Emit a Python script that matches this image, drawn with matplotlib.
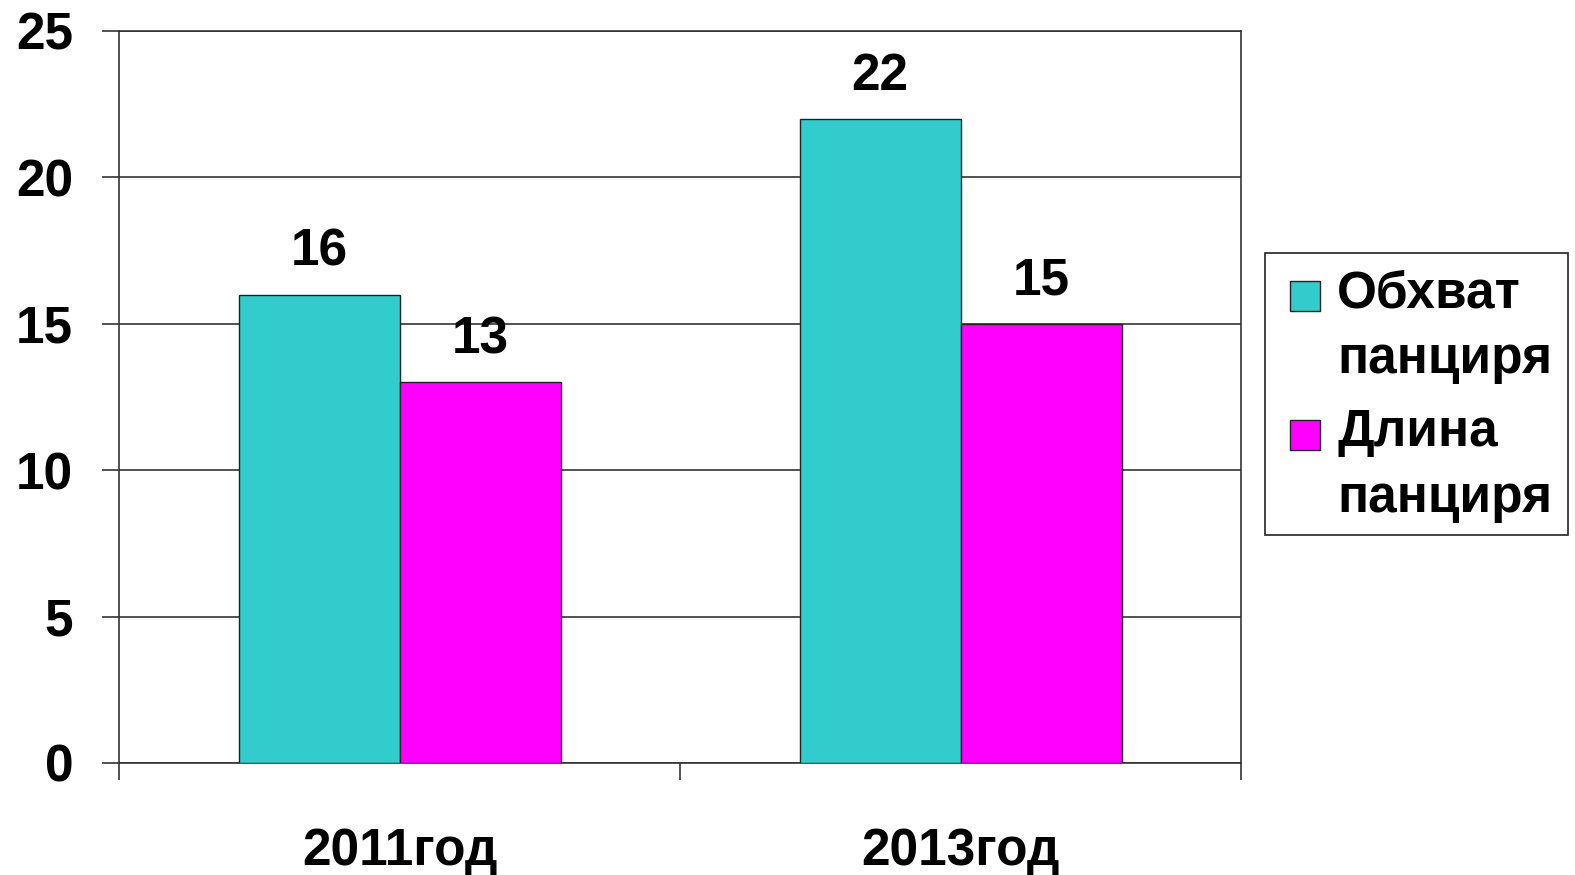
import matplotlib
matplotlib.use("Agg")
import matplotlib.pyplot as plt
from matplotlib.patches import Rectangle
import numpy as np

categories = ["2011год", "2013год"]
series_names = ["Обхват\nпанциря", "Длина\nпанциря"]
obhvat = [16, 22]
dlina = [13, 15]
yticks = [0, 5, 10, 15, 20, 25]

colors = ["#33CCCC", "#FF00FF"]

plt.rcParams['font.family'] = ['Liberation Sans', 'DejaVu Sans']
plt.rcParams['font.weight'] = 'bold'

W, H = 1575, 875
fig = plt.figure(figsize=(W / 100, H / 100), dpi=100)
ax = fig.add_axes([119 / W, 1 - 763 / H, (1241 - 119) / W, (763 - 31) / H])

x = np.arange(len(categories))
bw = 161 / 561
b1 = ax.bar(x - bw / 2, obhvat, bw, color=colors[0], edgecolor="#222222", linewidth=1.0,
            label=series_names[0], zorder=3)
b2 = ax.bar(x + bw / 2, dlina, bw, color=colors[1], edgecolor="#222222", linewidth=1.0,
            label=series_names[1], zorder=3)

fs = 37
ax.bar_label(b1, padding=13, fontsize=fs, fontweight='bold')
ax.bar_label(b2, padding=13, fontsize=fs, fontweight='bold')

ax.set_xlim(-0.5, 1.5)
ax.set_ylim(0, 25)
ax.set_yticks(yticks)
ax.yaxis.grid(True, color="#333333", linewidth=1.2, zorder=0)

ax.set_xticks([-0.5, 0.5, 1.5])
ax.set_xticklabels(["", "", ""])
ax.set_xticks(x, minor=True)
ax.set_xticklabels(categories, minor=True, fontsize=fs, fontweight='bold')
ax.tick_params(axis='x', which='major', direction='out', length=12, width=1.2, color="#333333")
ax.tick_params(axis='x', which='minor', length=0, pad=46)
ax.tick_params(axis='y', direction='out', length=12, width=1.2, color="#333333",
               labelsize=fs, pad=21)
for lab in ax.get_yticklabels():
    lab.set_fontweight('bold')

for s in ax.spines.values():
    s.set_color("#333333")
    s.set_linewidth(1.2)

# Manual legend (handles top-aligned with first label line, as in the reference)
def fx(px):
    return px / W

def fy(py):
    return 1 - py / H

fig.patches.append(Rectangle((fx(1265), fy(535)), fx(1568) - fx(1265), fy(253) - fy(535),
                             transform=fig.transFigure, facecolor="white",
                             edgecolor="#222222", linewidth=1.2, zorder=5))
entry_tops = [281, 420]
for name, col, top in zip(series_names, colors, entry_tops):
    fig.patches.append(Rectangle((fx(1290), fy(top + 30)), fx(30), 30 / H,
                                 transform=fig.transFigure, facecolor=col,
                                 edgecolor="#222222", linewidth=1.0, zorder=6))
    fig.text(fx(1337), fy(top - 12), name, ha='left', va='top', fontsize=fs,
             fontweight='bold', linespacing=1.45, zorder=7)

fig.savefig("out.png", dpi=100, facecolor="white")
